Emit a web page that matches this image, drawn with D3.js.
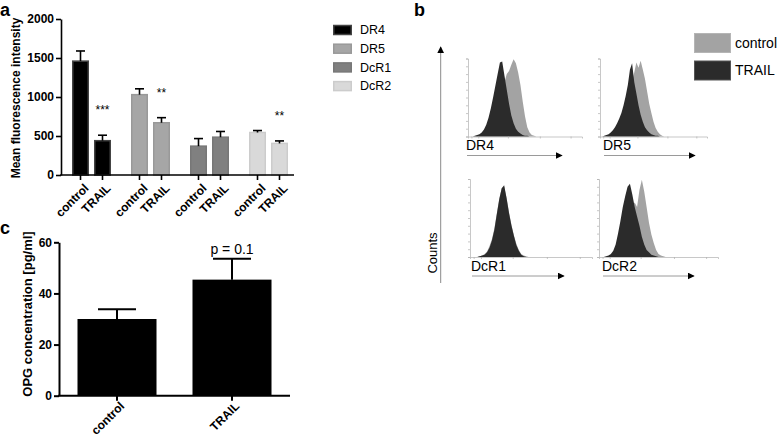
<!DOCTYPE html>
<html>
<head>
<meta charset="utf-8">
<script src="https://cdn.jsdelivr.net/npm/d3@7"></script>
<style>
  body { margin: 0; background: #fff; }
  svg { display: block; font-family: "Liberation Sans", Arial, sans-serif; }
</style>
</head>
<body>
<svg width="778" height="439"></svg>
<script>
// ---- panel a data: mean fluorescence intensity ----
const receptors = ["DR4", "DR5", "DcR1", "DcR2"];
const treatments = ["control", "TRAIL"];
const mfiControl = [1460, 1030, 370, 545];
const mfiTrail = [440, 670, 485, 405];
const semControl = [130, 75, 97, 25];
const semTrail = [70, 65, 73, 32];
const mfiStars = ["***", "**", "", "**"];
const mfiTicks = [0, 500, 1000, 1500, 2000];
const receptorFill = ["#000000", "#a6a6a6", "#808080", "#d9d9d9"];
const receptorStroke = ["#444444", "#999999", "#777777", "#cccccc"];

// ---- panel c data: OPG concentration ----
const opgGroups = ["control", "TRAIL"];
const opgMean = [30, 45.4];
const opgSem = [3.8, 8.2];
const opgTicks = [0, 20, 40, 60];
const opgNote = "p = 0.1";

// ---- panel b data: histograms (channel, % of max) ----
const histChannels = [0, 2, 4, 6, 8, 10, 12, 14, 16, 18, 20, 22, 24, 26, 28, 30,
  32, 34, 36, 38, 40, 42, 44, 46, 48, 50, 52, 54, 56, 58, 60];
const dr4Control = [0, 0, 0, 0, 1, 1, 2, 3, 5, 7, 10, 16, 24, 34, 46, 58, 70, 80, 84, 92, 99, 94, 82, 66, 45, 26, 12, 5, 2, 1, 0];
const dr4Trail = [0, 0, 0, 1, 2, 3, 5, 9, 15, 24, 36, 50, 65, 80, 95, 96, 78, 60, 42, 27, 17, 10, 6, 4, 2, 1, 1, 0, 0, 0, 0];
const dr5Control = [0, 0, 0, 0, 1, 2, 3, 4, 6, 8, 14, 22, 32, 44, 56, 70, 82, 95, 88, 97, 86, 74, 58, 42, 30, 19, 11, 6, 3, 1, 0];
const dr5Trail = [0, 0, 1, 2, 3, 5, 8, 12, 17, 23, 30, 40, 52, 66, 86, 94, 70, 55, 40, 28, 19, 12, 8, 5, 3, 2, 1, 1, 0, 0, 0];
const dcr1Control = [0, 0, 0, 0, 1, 2, 4, 7, 14, 23, 37, 56, 75, 88, 90, 76, 57, 41, 28, 17, 9, 4, 2, 1, 0, 0, 0, 0, 0, 0, 0];
const dcr1Trail = [0, 0, 0, 0, 1, 2, 3, 6, 12, 21, 35, 55, 74, 88, 92, 75, 56, 40, 27, 15, 8, 3, 1, 0, 0, 0, 0, 0, 0, 0, 0];
const dcr2Control = [0, 0, 0, 0, 0, 1, 2, 6, 12, 22, 34, 46, 56, 62, 66, 70, 64, 86, 99, 84, 64, 44, 29, 18, 9, 4, 2, 1, 0, 0, 0];
const dcr2Trail = [0, 0, 0, 1, 2, 4, 8, 16, 30, 46, 64, 78, 90, 94, 80, 64, 52, 40, 26, 16, 9, 6, 3, 2, 1, 0, 0, 0, 0, 0, 0];
const histLegend = ["control", "TRAIL"];
const histColors = ["#a3a3a3", "#2b2b2b"];

const svg = d3.select("svg");
svg.append("rect").attr("width", 778).attr("height", 439).attr("fill", "#fff");

// =================== panel a ===================
const gA = svg.append("g");
const ya = d3.scaleLinear().domain([0, 2000]).range([175, 19]);
const xa0 = d3.scaleBand().domain(receptors).range([62, 298]);
const gw = xa0.bandwidth();
const xa1 = d3.scaleBand().domain(treatments)
  .range([gw / 2 - 19.5, gw / 2 + 19.5]).paddingInner(5 / 22);

const barsA = [];
receptors.forEach((r, i) => {
  barsA.push({ r, i, t: "control", v: mfiControl[i], e: semControl[i], star: "" });
  barsA.push({ r, i, t: "TRAIL", v: mfiTrail[i], e: semTrail[i], star: mfiStars[i] });
});
const cxA = (d) => xa0(d.r) + xa1(d.t) + xa1.bandwidth() / 2;

gA.selectAll("rect.bar")
  .data(barsA)
  .enter()
  .append("rect")
  .attr("class", "bar")
  .attr("x", (d) => xa0(d.r) + xa1(d.t) + 0.75)
  .attr("width", xa1.bandwidth() - 1.5)
  .attr("y", (d) => ya(d.v))
  .attr("height", (d) => ya(0) - ya(d.v))
  .attr("fill", (d) => receptorFill[d.i])
  .attr("stroke", (d) => receptorStroke[d.i])
  .attr("stroke-width", 1.5);

// error bars (upper half only)
const errA = gA.selectAll("g.err").data(barsA).enter().append("g").attr("class", "err")
  .attr("stroke", "#000").attr("stroke-width", 1.6);
errA.append("line")
  .attr("x1", cxA).attr("x2", cxA)
  .attr("y1", (d) => ya(d.v)).attr("y2", (d) => ya(d.v + d.e));
errA.append("line")
  .attr("x1", (d) => cxA(d) - 4.5).attr("x2", (d) => cxA(d) + 4.5)
  .attr("y1", (d) => ya(d.v + d.e)).attr("y2", (d) => ya(d.v + d.e));

gA.selectAll("text.star")
  .data(barsA.filter((d) => d.star))
  .enter()
  .append("text")
  .attr("class", "star")
  .attr("x", cxA)
  .attr("y", (d) => ya(d.v + d.e) - 21)
  .attr("text-anchor", "middle")
  .attr("font-size", 12)
  .text((d) => d.star);

// y axis
const axA = gA.append("g").attr("transform", "translate(61,0)")
  .call(d3.axisLeft(ya).tickValues(mfiTicks).tickFormat(d3.format("d"))
    .tickSize(5).tickSizeOuter(0).tickPadding(2));
axA.attr("font-size", 12).attr("font-family", null);
axA.selectAll("path, line").attr("stroke", "#000").attr("stroke-width", 1.6);
axA.selectAll("text").attr("font-weight", "bold").attr("fill", "#000");

// x axis
gA.append("line").attr("x1", 60.2).attr("x2", 294).attr("y1", ya(0)).attr("y2", ya(0))
  .attr("stroke", "#000").attr("stroke-width", 1.6);
gA.selectAll("line.xt").data(barsA).enter().append("line").attr("class", "xt")
  .attr("x1", cxA).attr("x2", cxA).attr("y1", ya(0)).attr("y2", ya(0) + 5)
  .attr("stroke", "#000").attr("stroke-width", 1.6);
gA.selectAll("text.xl").data(barsA).enter().append("text").attr("class", "xl")
  .attr("transform", (d) => `translate(${cxA(d) + 3},${ya(0) + 8}) rotate(-45)`)
  .attr("text-anchor", "end")
  .attr("dy", "0.7em")
  .attr("font-size", 12).attr("font-weight", "bold")
  .text((d) => d.t);

gA.append("text").attr("transform", "translate(19.5,98) rotate(-90)")
  .attr("text-anchor", "middle").attr("font-size", 12).attr("font-weight", "bold")
  .text("Mean fluorescence intensity");
gA.append("text").attr("x", 0).attr("y", 16).attr("font-size", 18).attr("font-weight", "bold").text("a");

// legend a
const legA = gA.selectAll("g.lega").data(receptors).enter().append("g").attr("class", "lega")
  .attr("transform", (d, i) => `translate(333,${30 + i * 18.7})`);
legA.append("rect").attr("x", 0.75).attr("y", -4.5).attr("width", 17.5).attr("height", 9)
  .attr("fill", (d, i) => receptorFill[i]).attr("stroke", (d, i) => receptorStroke[i]).attr("stroke-width", 1.5);
legA.append("text").attr("x", 27).attr("y", 0).attr("dy", "0.35em").attr("font-size", 12.5).text((d) => d);

// =================== panel c ===================
const gC = svg.append("g");
const yc = d3.scaleLinear().domain([0, 60]).range([395.7, 242.3]);
const xc = d3.scaleBand().domain(opgGroups).range([59.5, 289.5]).paddingInner(0.313).paddingOuter(0.1565);
const barsC = opgGroups.map((g, i) => ({ g, v: opgMean[i], e: opgSem[i] }));
const cxC = (d) => xc(d.g) + xc.bandwidth() / 2;

gC.selectAll("rect").data(barsC).enter().append("rect")
  .attr("x", (d) => xc(d.g)).attr("width", xc.bandwidth())
  .attr("y", (d) => yc(d.v)).attr("height", (d) => yc(0) - yc(d.v))
  .attr("fill", "#000");
const errC = gC.selectAll("g.err").data(barsC).enter().append("g").attr("class", "err")
  .attr("stroke", "#000").attr("stroke-width", 2);
errC.append("line").attr("x1", cxC).attr("x2", cxC)
  .attr("y1", (d) => yc(d.v)).attr("y2", (d) => yc(d.v + d.e));
errC.append("line").attr("x1", (d) => cxC(d) - 19).attr("x2", (d) => cxC(d) + 19)
  .attr("y1", (d) => yc(d.v + d.e)).attr("y2", (d) => yc(d.v + d.e));

gC.append("text").attr("x", cxC(barsC[1])).attr("y", yc(barsC[1].v + barsC[1].e) - 5)
  .attr("text-anchor", "middle").attr("font-size", 14).text(opgNote);

const axC = gC.append("g").attr("transform", "translate(59,0)")
  .call(d3.axisLeft(yc).tickValues(opgTicks).tickSize(5).tickSizeOuter(0).tickPadding(2));
axC.attr("font-size", 12).attr("font-family", null);
axC.selectAll("path, line").attr("stroke", "#000").attr("stroke-width", 2);
axC.selectAll("text").attr("font-weight", "bold").attr("fill", "#000");

gC.append("line").attr("x1", 58).attr("x2", 290).attr("y1", yc(0)).attr("y2", yc(0))
  .attr("stroke", "#000").attr("stroke-width", 2);
gC.selectAll("line.xt").data(barsC).enter().append("line").attr("class", "xt")
  .attr("x1", cxC).attr("x2", cxC).attr("y1", yc(0)).attr("y2", yc(0) + 5)
  .attr("stroke", "#000").attr("stroke-width", 2);
gC.selectAll("text.xl").data(barsC).enter().append("text").attr("class", "xl")
  .attr("transform", (d) => `translate(${cxC(d) + 3},${yc(0) + 6}) rotate(-45)`)
  .attr("text-anchor", "end").attr("dy", "0.6em")
  .attr("font-size", 12).attr("font-weight", "bold")
  .text((d) => d.g);

gC.append("text").attr("transform", "translate(31.5,314) rotate(-90)")
  .attr("text-anchor", "middle").attr("font-size", 13).attr("font-weight", "bold")
  .text("OPG concentration [pg/ml]");
gC.append("text").attr("x", 0).attr("y", 234).attr("font-size", 18).attr("font-weight", "bold").text("c");

// =================== panel b ===================
const gB = svg.append("g");
gB.append("text").attr("x", 414).attr("y", 16).attr("font-size", 18).attr("font-weight", "bold").text("b");

const defs = svg.append("defs");
defs.append("marker").attr("id", "arrow").attr("viewBox", "0 0 10 10")
  .attr("refX", 9).attr("refY", 5).attr("markerWidth", 7).attr("markerHeight", 7)
  .attr("markerUnits", "userSpaceOnUse").attr("orient", "auto")
  .append("path").attr("d", "M0,0L10,5L0,10Z").attr("fill", "#000");

// Counts axis
gB.append("line").attr("x1", 440.7).attr("x2", 440.7).attr("y1", 283).attr("y2", 47)
  .attr("stroke", "#8a8a8a").attr("stroke-width", 1).attr("marker-end", "url(#arrow)");
gB.append("text").attr("transform", "translate(436.5,253) rotate(-90)")
  .attr("text-anchor", "middle").attr("font-size", 13).text("Counts");

const hists = [
  { name: "DR4", ctrl: dr4Control, trail: dr4Trail, left: 468, right: 582, bottom: 136.5, arrow: [467, 562] },
  { name: "DR5", ctrl: dr5Control, trail: dr5Trail, left: 600, right: 707, bottom: 136.5, arrow: [604, 695] },
  { name: "DcR1", ctrl: dcr1Control, trail: dcr1Trail, left: 470, right: 592, bottom: 257, arrow: [472, 564] },
  { name: "DcR2", ctrl: dcr2Control, trail: dcr2Trail, left: 599, right: 718, bottom: 257, arrow: [603, 694] }
];

hists.forEach((h) => {
  const g = gB.append("g");
  const x = d3.scaleLinear().domain([0, 100]).range([h.left, h.right]);
  const y = d3.scaleLinear().domain([0, 100]).range([h.bottom, h.bottom - 78]);
  const area = d3.area()
    .x((d) => x(d[0])).y0(y(0)).y1((d) => y(d[1]))
    .curve(d3.curveLinear);

  [h.ctrl, h.trail].forEach((vals, k) => {
    g.append("path")
      .datum(histChannels.map((c, j) => [c, vals[j]]))
      .attr("d", area)
      .attr("fill", histColors[k]);
  });

  const ax = g.append("g").attr("transform", `translate(${h.left},0)`)
    .call(d3.axisLeft(y).ticks(9).tickSize(2).tickFormat(""));
  ax.selectAll("path, line").attr("stroke", "#b0b0b0").attr("stroke-width", 0.7);
  const bx = g.append("g").attr("transform", `translate(0,${h.bottom})`)
    .call(d3.axisBottom(x).tickValues([3, 9, 35, 63, 90]).tickSize(2).tickFormat(""));
  bx.selectAll("path, line").attr("stroke", "#b0b0b0").attr("stroke-width", 0.7);

  g.append("text").attr("x", h.arrow[0] - 1).attr("y", h.bottom + 13.5)
    .attr("font-size", 14).text(h.name);
  g.append("line").attr("x1", h.arrow[0]).attr("x2", h.arrow[1])
    .attr("y1", h.bottom + 19).attr("y2", h.bottom + 19)
    .attr("stroke", "#9a9a9a").attr("stroke-width", 1).attr("marker-end", "url(#arrow)");
});

// legend b
const legB = gB.selectAll("g.legb").data(histLegend).enter().append("g").attr("class", "legb")
  .attr("transform", (d, i) => `translate(694,${33 + i * 27.5})`);
legB.append("rect").attr("x", 0.5).attr("y", 0.5).attr("width", 36).attr("height", 19)
  .attr("fill", (d, i) => histColors[i]).attr("stroke", (d, i) => (i ? "#555" : "#b5b5b5"));
legB.append("text").attr("x", 41).attr("y", 10).attr("dy", "0.35em").attr("font-size", 14).text((d) => d);
</script>
</body>
</html>
